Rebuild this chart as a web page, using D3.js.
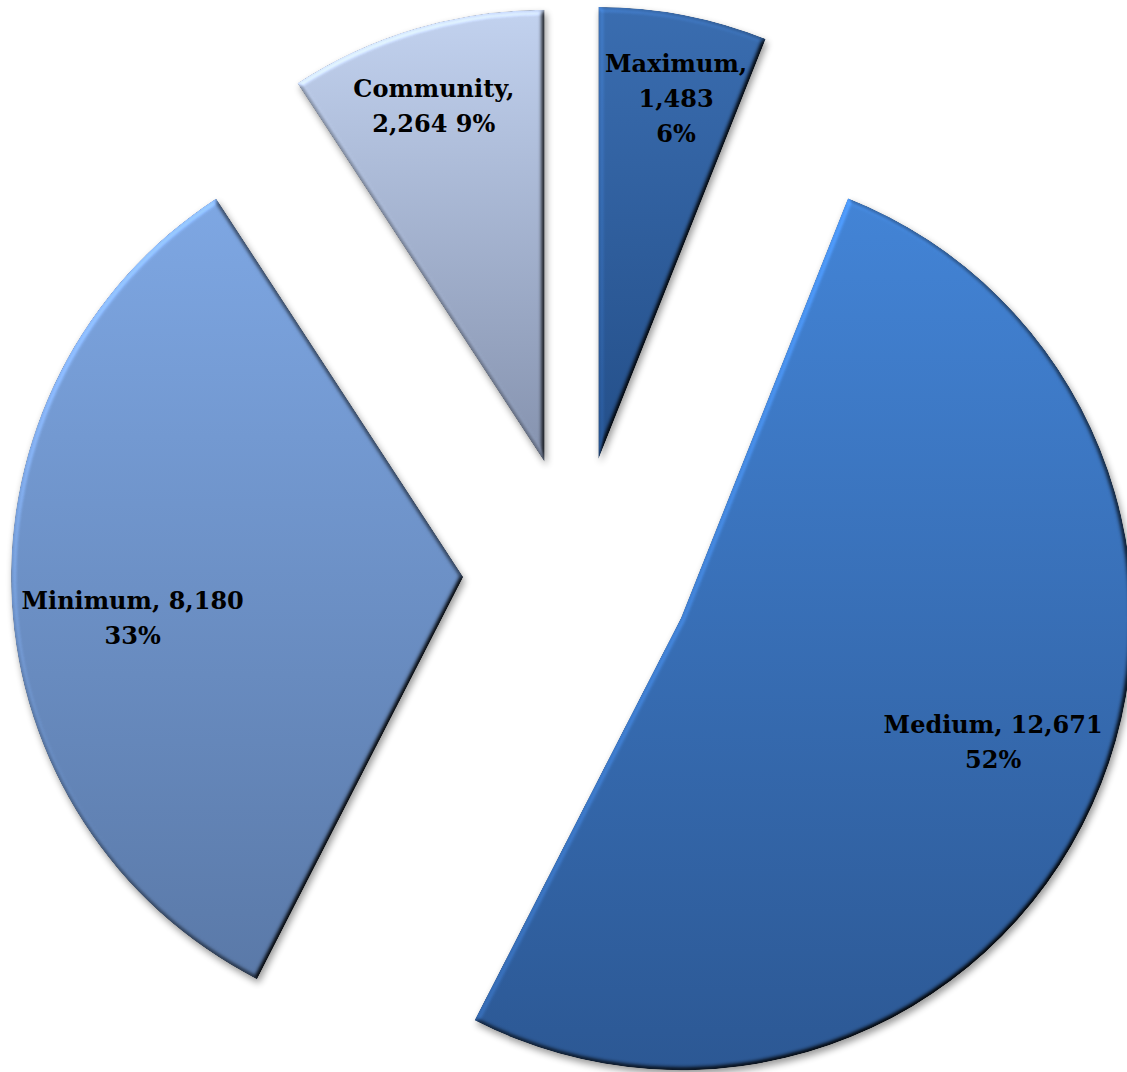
<!DOCTYPE html>
<html>
<head>
<meta charset="utf-8">
<script src="https://cdn.jsdelivr.net/npm/d3@7"></script>
<style>
  html, body { margin: 0; padding: 0; background: #ffffff; }
  svg { display: block; overflow: hidden; }
</style>
</head>
<body>
<div id="chart"></div>
<script>
// ---- data ----
const categories = ["Maximum", "Medium", "Minimum", "Community"];
const values = [1483, 12671, 8180, 2264];
// label line layout: which parts go on which line ("n" = name, "v" = value, "p" = percent)
const labelLayout = [["n", "v", "p"], ["nv", "p"], ["nv", "p"], ["n", "vp"]];

// ---- style / layout ----
const topColors = ["#3A6DB0", "#4384D6", "#7EA7E3", "#C2D2EF"];
const bottomColors = ["#244F89", "#2C5894", "#5A79A8", "#8592AE"];
const labelDist = [369, 336, 333, 373];
const labelAngleShift = [1.3, -2.8, -4.0, -0.7];

const W = 1127, H = 1072;
const cx = 577, cy = 571, R = 452, explode = 114;
const lineH = 35;

const svg = d3.select("#chart").append("svg")
  .attr("width", W).attr("height", H)
  .attr("viewBox", `0 0 ${W} ${H}`);

const defs = svg.append("defs");

categories.forEach((c, i) => {
  const g = defs.append("linearGradient")
    .attr("id", "grad" + i)
    .attr("x1", 0).attr("y1", 0).attr("x2", 0).attr("y2", 1);
  g.append("stop").attr("offset", "0%").attr("stop-color", topColors[i]);
  g.append("stop").attr("offset", "100%").attr("stop-color", bottomColors[i]);
});

const elev = 55;
const filter = defs.append("filter")
  .attr("id", "bevel")
  .attr("x", "-0.1").attr("y", "-0.1").attr("width", "1.2").attr("height", "1.2")
  .attr("color-interpolation-filters", "sRGB");
filter.append("feGaussianBlur").attr("in", "SourceAlpha").attr("stdDeviation", 2.5).attr("result", "blur");
const light = filter.append("feDiffuseLighting")
  .attr("in", "blur").attr("surfaceScale", 4).attr("diffuseConstant", 1)
  .attr("lighting-color", "#ffffff").attr("result", "light");
light.append("feDistantLight").attr("azimuth", 225).attr("elevation", elev);
filter.append("feComposite").attr("in", "SourceGraphic").attr("in2", "light")
  .attr("operator", "arithmetic")
  .attr("k1", 1 / Math.sin(elev * Math.PI / 180)).attr("k2", 0).attr("k3", 0).attr("k4", 0)
  .attr("result", "lit");
filter.append("feComposite").attr("in", "lit").attr("in2", "SourceAlpha").attr("operator", "in").attr("result", "litIn");
filter.append("feGaussianBlur").attr("in", "SourceAlpha").attr("stdDeviation", 3.5).attr("result", "sblur");
filter.append("feOffset").attr("in", "sblur").attr("dx", 2).attr("dy", 4).attr("result", "soff");
const ct = filter.append("feComponentTransfer").attr("in", "soff").attr("result", "shadow");
ct.append("feFuncA").attr("type", "linear").attr("slope", 0.4);
const merge = filter.append("feMerge");
merge.append("feMergeNode").attr("in", "shadow");
merge.append("feMergeNode").attr("in", "litIn");

const data = categories.map((c, i) => ({ name: c, value: values[i], idx: i }));
const total = d3.sum(values);
const pie = d3.pie().sort(null).value(d => d.value).startAngle(0).endAngle(2 * Math.PI);
const arcs = pie(data);
const arc = d3.arc().innerRadius(0).outerRadius(R);

const fmtNum = d3.format(",");
const fmtPct = d3.format(".0%");

const g = svg.append("g").attr("transform", `translate(${cx},${cy})`);

const slices = g.selectAll("g.slice").data(arcs).enter().append("g")
  .attr("class", "slice")
  .attr("transform", d => {
    const a = (d.startAngle + d.endAngle) / 2;
    return `translate(${explode * Math.sin(a)},${-explode * Math.cos(a)})`;
  });

slices.append("path")
  .attr("d", arc)
  .attr("fill", d => `url(#grad${d.data.idx})`)
  .attr("filter", "url(#bevel)");

slices.each(function(d) {
  const i = d.data.idx;
  const a = (d.startAngle + d.endAngle) / 2 + labelAngleShift[i] * Math.PI / 180;
  const lx = labelDist[i] * Math.sin(a);
  const ly = -labelDist[i] * Math.cos(a);
  const parts = {
    n: d.data.name + ",",
    v: fmtNum(d.data.value),
    p: fmtPct(d.data.value / total)
  };
  const lines = labelLayout[i].map(code => code.split("").map(ch => parts[ch]).join(" "));
  const t = d3.select(this).append("text")
    .attr("text-anchor", "middle")
    .attr("font-family", "'DejaVu Serif', 'Liberation Serif', serif")
    .attr("font-weight", "bold")
    .attr("font-size", 24)
    .attr("fill", "#000000");
  lines.forEach((ln, k) => {
    t.append("tspan")
      .attr("x", lx)
      .attr("y", ly + (k - (lines.length - 1) / 2) * lineH + 9)
      .text(ln);
  });
});
</script>
</body>
</html>
